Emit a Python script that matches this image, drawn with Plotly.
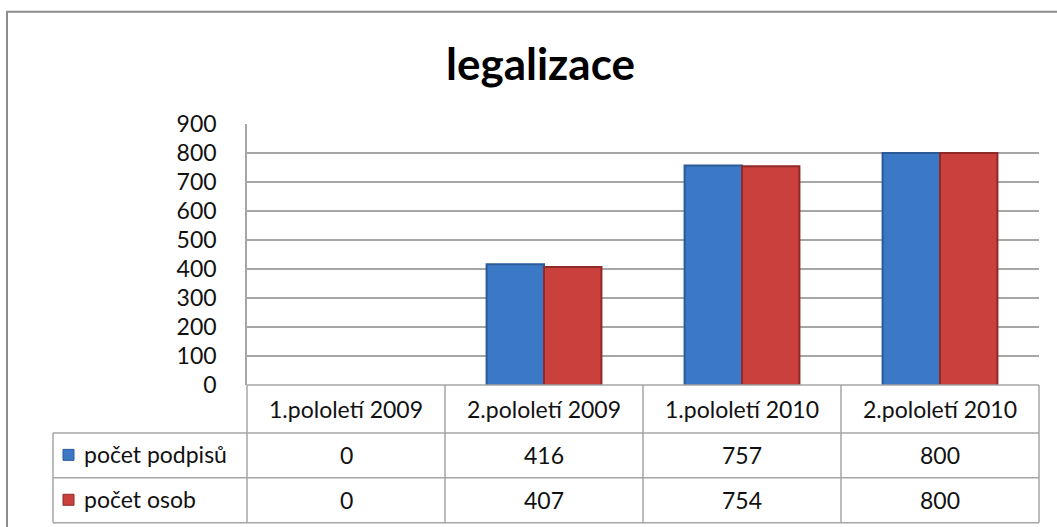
import plotly.graph_objects as go

categories = ["1.pololetí 2009", "2.pololetí 2009", "1.pololetí 2010", "2.pololetí 2010"]
podpisy = [0, 416, 757, 800]
osoby = [0, 407, 754, 800]
series_names = ["počet podpisů", "počet osob"]
y_ticks = [0, 100, 200, 300, 400, 500, 600, 700, 800, 900]

W, H = 1057, 527
L, R, T, B = 247, 1039, 123.5, 385
FONT = "Lato, 'Open Sans', sans-serif"
BLUE, BLUE_EDGE = "#3b78c6", "#2a5b98"
RED, RED_EDGE = "#c9403d", "#8e2a28"
GRID = "#a6a6a6"


def px(x):
    return (x - L) / (R - L)


def py(y):
    return (B - y) / (B - T)


fig = go.Figure()
for vals, name, col, edge in [(podpisy, series_names[0], BLUE, BLUE_EDGE),
                              (osoby, series_names[1], RED, RED_EDGE)]:
    fig.add_trace(go.Bar(
        x=categories, y=vals, name=name,
        marker=dict(color=col, line=dict(color=edge, width=[2 if v else 0 for v in vals])),
    ))

fig.update_layout(
    width=W, height=H,
    margin=dict(l=L, r=W - R, t=T, b=H - B),
    paper_bgcolor="white", plot_bgcolor="white",
    barmode="group", bargap=0.42, bargroupgap=0,
    showlegend=False,
    font=dict(family=FONT, size=23, color="#111"),
)
fig.update_xaxes(showticklabels=False, showgrid=False, showline=False, zeroline=False,
                 range=[-0.5, 3.5])
fig.update_yaxes(range=[0, 900], tickvals=y_ticks, showgrid=True, gridcolor=GRID, gridwidth=1.5,
                 zeroline=False, showline=True, linecolor=GRID, linewidth=1.5,
                 ticks="", ticklabelstandoff=24, tickfont=dict(size=23, color="#111"))

# title
fig.add_annotation(x=px(540), y=py(62), xref="paper", yref="paper", text="<b>legalizace</b>",
                   showarrow=False, font=dict(size=44, color="black"),
                   xanchor="center", yanchor="middle")

# outer chart border
fig.add_shape(type="rect", xref="paper", yref="paper",
              x0=px(7), x1=px(1070), y0=py(11), y1=py(540),
              line=dict(color="#8c8c8c", width=2), fillcolor="rgba(0,0,0,0)")

# data table
row_lines = [385, 433, 478, 523]
col_edges = [L + (R - L) * i / len(categories) for i in range(len(categories) + 1)]
label_left = 53
line = dict(color=GRID, width=1.5)

# horizontal lines
fig.add_shape(type="line", xref="paper", yref="paper", x0=0, x1=1, y0=py(385), y1=py(385), line=line)
for yy in row_lines[1:]:
    fig.add_shape(type="line", xref="paper", yref="paper", x0=px(label_left), x1=1,
                  y0=py(yy), y1=py(yy), line=line)
# vertical lines
for xx in col_edges:
    fig.add_shape(type="line", xref="paper", yref="paper", x0=px(xx), x1=px(xx),
                  y0=py(385), y1=py(523), line=line)
fig.add_shape(type="line", xref="paper", yref="paper", x0=px(label_left), x1=px(label_left),
              y0=py(433), y1=py(523), line=line)

# header row
for i, cat in enumerate(categories):
    cx = (col_edges[i] + col_edges[i + 1]) / 2
    fig.add_annotation(x=px(cx), y=py(409), xref="paper", yref="paper", text=cat,
                       showarrow=False, xanchor="center", yanchor="middle")

rows = [(series_names[0], podpisy, BLUE, BLUE_EDGE, 455.5),
        (series_names[1], osoby, RED, RED_EDGE, 500.5)]
for name, vals, col, edge, cy in rows:
    fig.add_shape(type="rect", xref="paper", yref="paper",
                  x0=px(63), x1=px(74), y0=py(cy - 6), y1=py(cy + 5),
                  fillcolor=col, line=dict(color=edge, width=1))
    fig.add_annotation(x=px(82), y=py(cy - 1), xref="paper", yref="paper", text=name,
                       showarrow=False, xanchor="left", yanchor="middle")
    for i, v in enumerate(vals):
        cx = (col_edges[i] + col_edges[i + 1]) / 2
        fig.add_annotation(x=px(cx), y=py(cy), xref="paper", yref="paper", text=str(v),
                           showarrow=False, xanchor="center", yanchor="middle")

fig.write_html("out.html", config={"displayModeBar": False},
               post_script="document.body.style.margin='0';document.body.style.overflow='hidden';")
